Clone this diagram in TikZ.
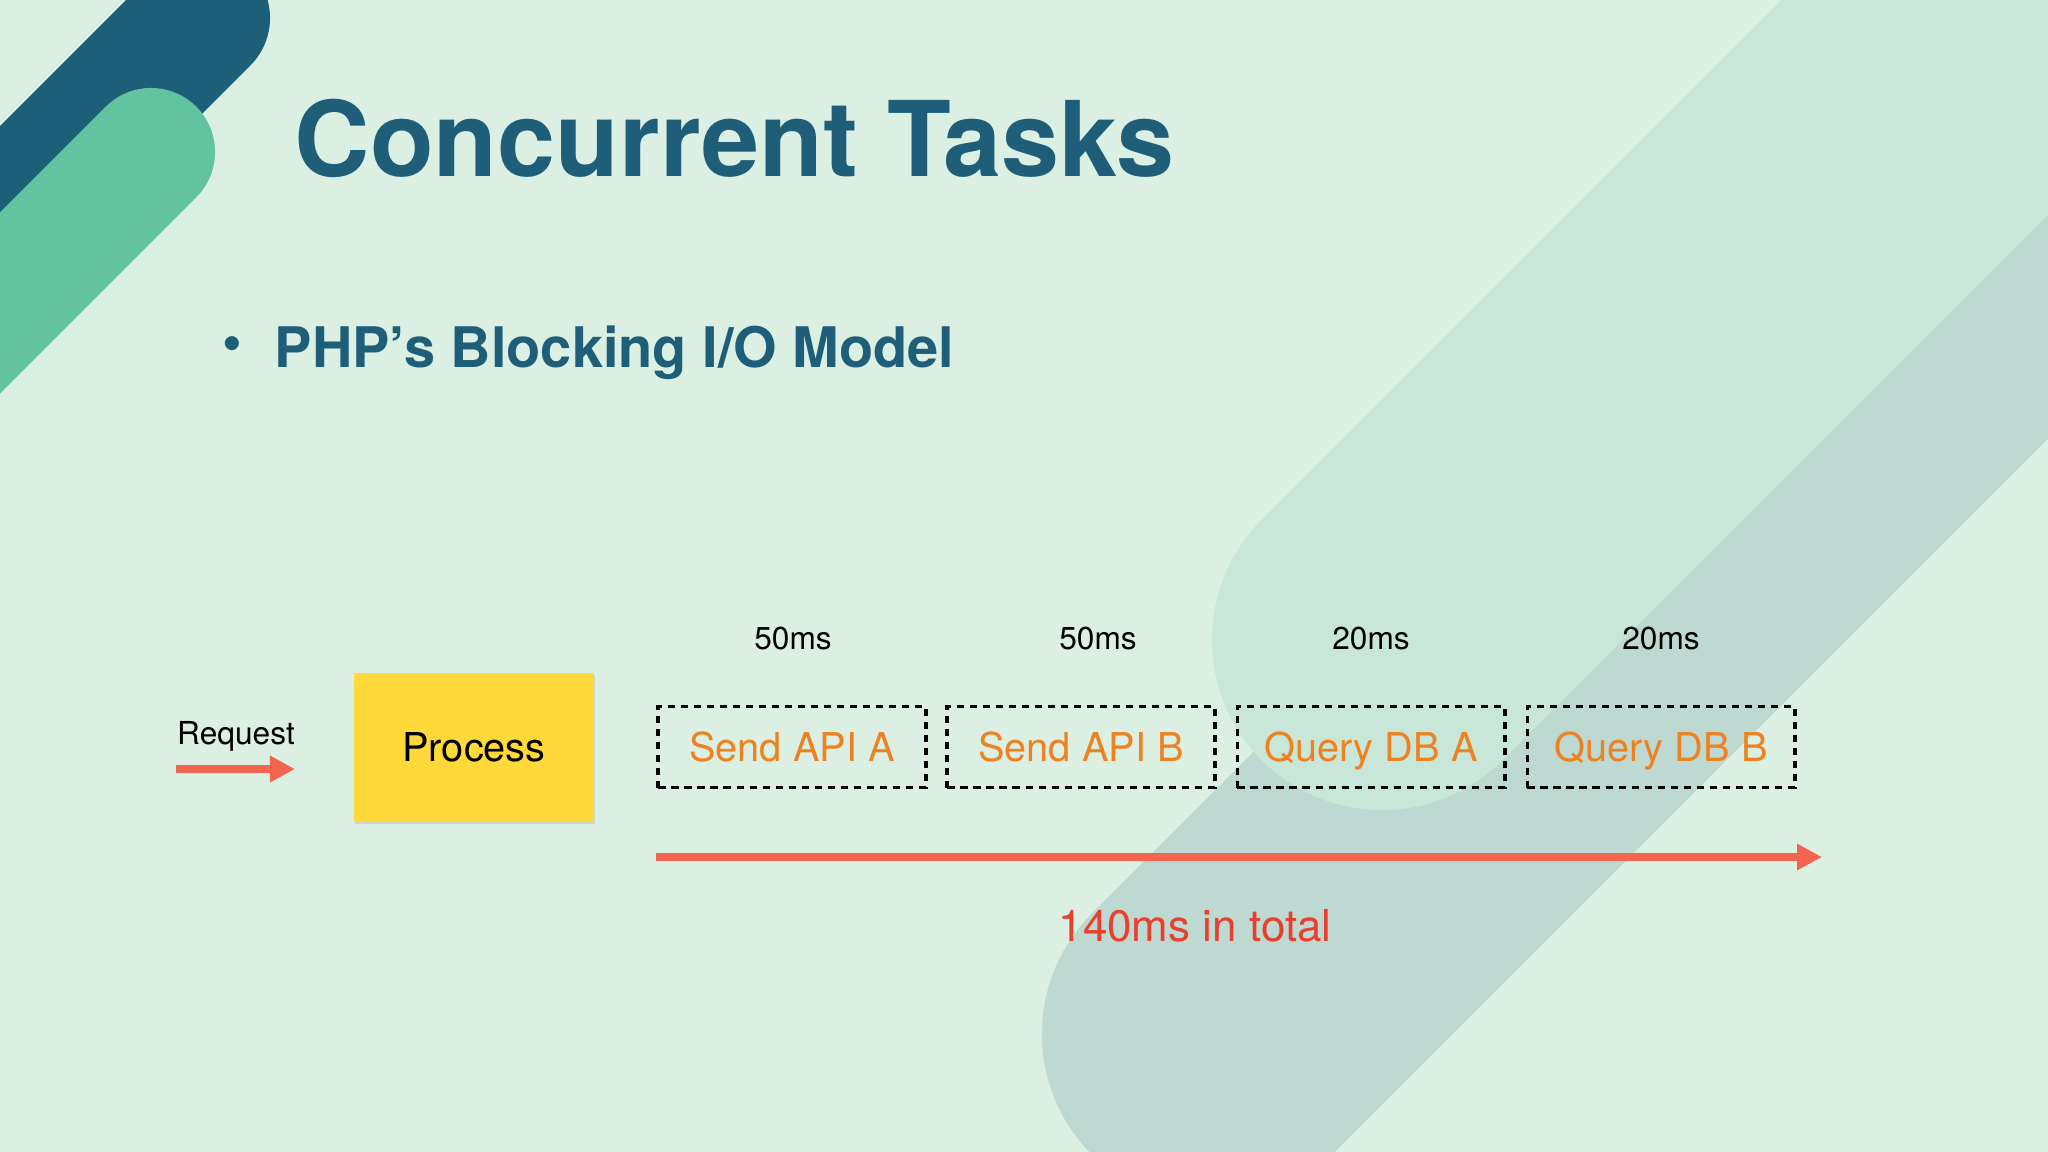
\documentclass[tikz,border=0pt]{standalone}
\usepackage{fontspec}
\setmainfont{TeX Gyre Heros}
\usepackage{tikz}
\usetikzlibrary{arrows.meta,shadows}
\definecolor{bgmint}{HTML}{DCEFE3}
\definecolor{bandlight}{HTML}{C9E7D9}
\definecolor{banddark}{HTML}{BDD9D1}
\definecolor{deepteal}{HTML}{1D5E78}
\definecolor{leafgreen}{HTML}{62C3A1}
\definecolor{titleblue}{HTML}{1F5E79}
\definecolor{procyellow}{HTML}{FFD83A}
\definecolor{taskorange}{HTML}{EE8220}
\definecolor{arrowred}{HTML}{F4654F}
\definecolor{totalred}{HTML}{E7402E}
\def\FS#1{\fontsize{#1}{#1}\selectfont}
\tikzset{
  task/.style={draw=black, line width=1.1pt, dash pattern=on 2.1pt off 1.6pt,
    minimum width=2.67cm, minimum height=0.81cm, inner sep=0pt,
    text=taskorange, font=\FS{11.3}, text height=8.1pt, text depth=0pt},
  msec/.style={font=\FS{9}, inner sep=0pt},
  flow/.style={draw=arrowred, line width=2pt, -{Triangle[length=0.25cm,width=0.25cm]}},
}

\begin{document}
\begin{tikzpicture}[x=0.01cm,y=-0.01cm]
  \useasboundingbox (0,0) rectangle (2048,1152);
\begin{scope}
  \clip (0,0) rectangle (2048,1152);
  \fill[bgmint] (0,0) rectangle (2048,1152);
  % big bands on the right
  \draw[banddark,line width=3.4cm,line cap=round] (1212,1034) -- ++(1300,-1300);
  \draw[bandlight,line width=3.4cm,line cap=round] (1382,640) -- ++(1000,-1000);
  % corner bands
  \draw[deepteal,line width=1.34cm,line cap=round] (203,18) -- ++(-500,500);
  \draw[leafgreen,line width=1.28cm,line cap=round] (151,152) -- ++(-600,600);
\end{scope}
\node[anchor=base west,inner sep=0pt,text=titleblue,font=\FS{29.7}\bfseries] (title) at (294,177) {Concurrent Tasks};
\node[inner sep=0pt,text=titleblue,font=\FS{16}\bfseries] (dot) at (232,349) {\textbullet};
\node[anchor=base west,inner sep=0pt,text=titleblue,font=\FS{15.9}\bfseries] (model) at (274,368) {PHP's Blocking I/O Model};

\node[font=\FS{9},inner sep=0pt] (req) at (236,736) {Request};
\coordinate (reqs) at (176,769);
\coordinate (reqe) at (295,769);
\draw[flow] (reqs) -- (reqe);

\node[fill=procyellow,minimum width=2.4cm,minimum height=1.48cm,inner sep=0pt,
  font=\FS{11.3},text height=8.1pt,text depth=0pt,
  drop shadow={opacity=0.2,shadow xshift=0.4pt,shadow yshift=-0.9pt}] (proc) at (474,747) {Process};

\foreach \x/\t/\name/\lbl/\ms in {792/793/apiA/Send API A/50ms, 1081/1098/apiB/Send API B/50ms,
    1371/1371/dbA/Query DB A/20ms, 1661/1661/dbB/Query DB B/20ms} {
  \node[task] (\name) at (\x,747) {\lbl};
  \node[msec] (\name ms) at (\t,639) {\ms};
}

\coordinate (tstart) at (656,857);
\coordinate (tend) at (1822,857);
\draw[flow] (tstart) -- (tend);
\node[text=totalred,font=\FS{12.5},inner sep=0pt] (total) at (1195,926) {140ms in total};
\end{tikzpicture}
\end{document}
